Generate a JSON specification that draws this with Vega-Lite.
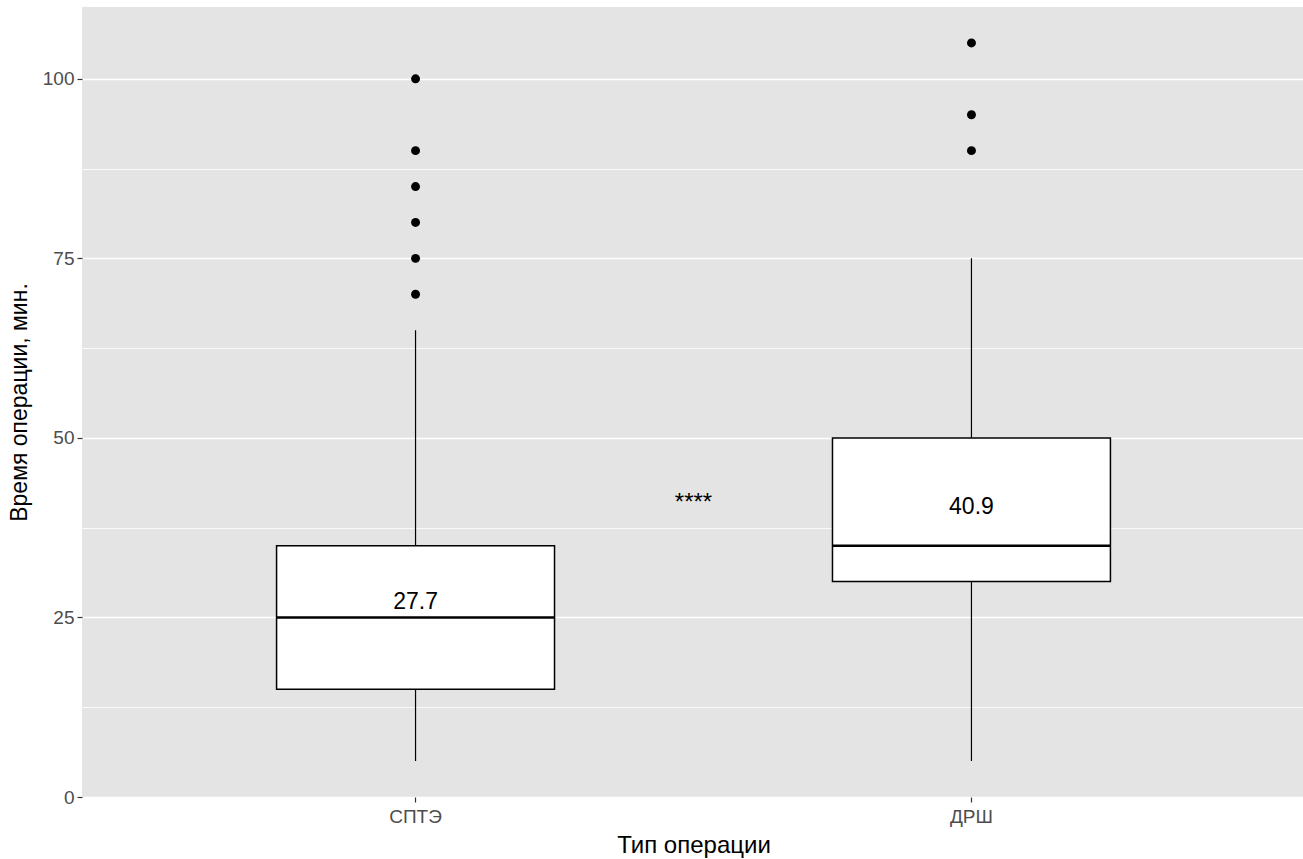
{
  "$schema": "https://vega.github.io/schema/vega-lite/v6.json",
  "autosize": "none",
  "padding": {"left": 82, "top": 7, "right": 0, "bottom": 62},
  "width": 1223,
  "height": 790,
  "background": "white",
  "config": {
    "view": {"fill": "#E4E4E4", "stroke": null},
    "font": "Liberation Sans",
    "axis": {
      "domain": false,
      "gridColor": "white",
      "tickColor": "#333333",
      "tickWidth": 1.2,
      "tickSize": 5,
      "labelColor": "#4D4D4D",
      "labelFontSize": 19,
      "labelFont": "Liberation Sans",
      "titleFont": "Liberation Sans",
      "titleFontSize": 23,
      "titleFontWeight": "normal",
      "titleColor": "black"
    }
  },
  "datasets": {
    "boxes": [
      {"cat": "СПТЭ", "lw": 5, "q1": 15, "med": 25, "q3": 35, "uw": 65, "mean": 27.7},
      {"cat": "ДРШ", "lw": 5, "q1": 30, "med": 35, "q3": 50, "uw": 75, "mean": 40.9}
    ],
    "outliers": [
      {"cat": "СПТЭ", "v": 70},
      {"cat": "СПТЭ", "v": 75},
      {"cat": "СПТЭ", "v": 80},
      {"cat": "СПТЭ", "v": 85},
      {"cat": "СПТЭ", "v": 90},
      {"cat": "СПТЭ", "v": 100},
      {"cat": "ДРШ", "v": 90},
      {"cat": "ДРШ", "v": 95},
      {"cat": "ДРШ", "v": 105}
    ],
    "sig": [
      {"cat": "СПТЭ vs ДРШ", "y": 41, "label": "****"}
    ]
  },
  "encoding": {
    "x": {
      "field": "cat",
      "type": "nominal",
      "scale": {"domain": ["СПТЭ", "СПТЭ vs ДРШ", "ДРШ"], "paddingInner": 0, "paddingOuter": 0.7},
      "axis": {
        "values": ["СПТЭ", "ДРШ"],
        "labelAngle": 0,
        "labelPadding": 5,
        "gridWidth": 1.5,
        "title": "Тип операции",
        "titleFontSize": 24,
        "titlePadding": 7
      }
    }
  },
  "layer": [
    {
      "data": {"name": "boxes"},
      "mark": {"type": "rule", "color": "black", "strokeWidth": 1.2},
      "encoding": {
        "y": {
          "field": "lw",
          "type": "quantitative",
          "scale": {"domain": [0, 110], "nice": false, "zero": false},
          "axis": {
            "values": [0, 12.5, 25, 37.5, 50, 62.5, 75, 87.5, 100],
            "labelExpr": "datum.value % 25 === 0 ? datum.label : ''",
            "tickOpacity": {"condition": {"test": "datum.value % 25 === 0", "value": 1}, "value": 0},
            "gridWidth": {"condition": {"test": "datum.value % 25 === 0", "value": 1.6}, "value": 0.8},
            "labelPadding": 3,
            "title": "Время операции, мин.",
            "titlePadding": 11
          }
        },
        "y2": {"field": "uw"}
      }
    },
    {
      "data": {"name": "boxes"},
      "mark": {"type": "bar", "fill": "white", "stroke": "black", "strokeWidth": 1.5, "opacity": 1},
      "encoding": {
        "y": {"field": "q1", "type": "quantitative"},
        "y2": {"field": "q3"}
      }
    },
    {
      "data": {"name": "boxes"},
      "mark": {"type": "tick", "color": "black", "opacity": 1, "thickness": 2.5, "size": 279, "orient": "horizontal"},
      "encoding": {
        "y": {"field": "med", "type": "quantitative"}
      }
    },
    {
      "data": {"name": "boxes"},
      "mark": {"type": "text", "fontSize": 23, "color": "black", "baseline": "middle", "dy": 4},
      "encoding": {
        "y": {"field": "mean", "type": "quantitative"},
        "text": {"field": "mean", "type": "quantitative", "format": ".1f"}
      }
    },
    {
      "data": {"name": "outliers"},
      "mark": {"type": "circle", "color": "black", "opacity": 1, "size": 80},
      "encoding": {
        "y": {"field": "v", "type": "quantitative"}
      }
    },
    {
      "data": {"name": "sig"},
      "mark": {"type": "text", "fontSize": 24, "color": "black", "baseline": "middle"},
      "encoding": {
        "y": {"field": "y", "type": "quantitative"},
        "text": {"field": "label"}
      }
    }
  ]
}
